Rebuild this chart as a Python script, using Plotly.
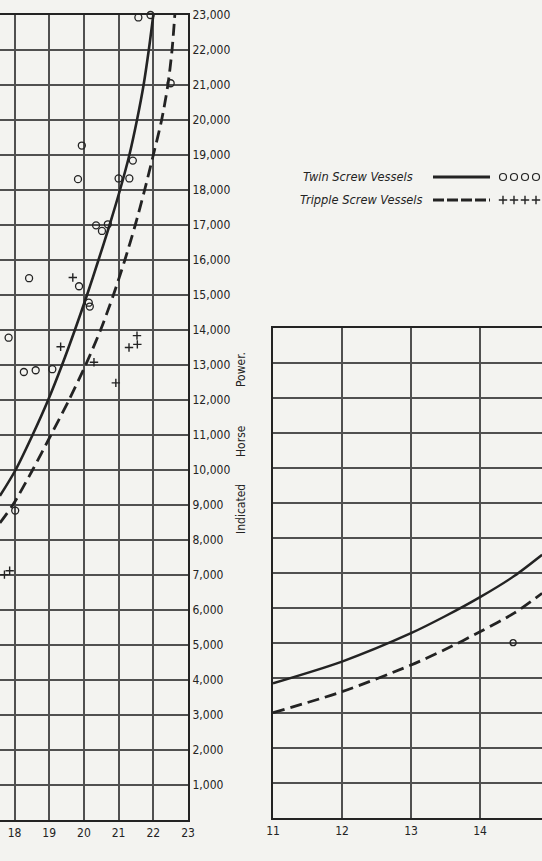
import plotly.graph_objects as go

# ---------------- data ----------------
# Left panel (high speeds, knots vs indicated horse power)
twin_pts_speed = [17.83, 18.02, 18.27, 18.42, 18.61, 19.09, 19.83, 19.86, 19.94, 20.14, 20.17,
                  20.35, 20.52, 20.69, 21.0, 21.31, 21.41, 21.57, 21.92, 22.5]
twin_pts_ihp = [13780, 8840, 12800, 15480, 12850, 12880, 18310, 15250, 19270, 14780, 14670,
                16990, 16830, 17020, 18330, 18330, 18840, 22930, 23000, 21050]
triple_pts_speed = [17.71, 17.86, 19.33, 19.68, 20.29, 20.92, 21.3, 21.53, 21.54]
triple_pts_ihp = [7010, 7120, 13520, 15500, 13080, 12490, 13500, 13840, 13590]

twin_curve_speed = [17.58, 18.03, 18.52, 18.97, 19.37, 19.74, 20.09, 20.42, 20.74, 21.04, 21.31,
                    21.53, 21.72, 21.87, 22.0]
twin_curve_ihp = [9260, 10000, 11000, 12000, 13000, 14000, 15000, 16000, 17000, 18000, 19000,
                  20000, 21000, 22000, 23000]
triple_curve_speed = [17.58, 17.95, 18.52, 19.05, 19.57, 20.05, 20.48, 20.85, 21.18, 21.48, 21.75,
                      22.0, 22.24, 22.42, 22.54, 22.62]
triple_curve_ihp = [8490, 9000, 10000, 11000, 12000, 13000, 14000, 15000, 16000, 17000, 18000,
                    19000, 20000, 21000, 22000, 23000]

# Right panel (low speeds)
twin_low_curve_speed = [11.0, 12.0, 13.0, 13.5, 14.0, 14.5, 14.9]
twin_low_curve_ihp = [3850, 4470, 5280, 5770, 6310, 6920, 7520]
triple_low_curve_speed = [11.0, 12.0, 13.0, 13.5, 14.0, 14.5, 14.9]
triple_low_curve_ihp = [3010, 3610, 4370, 4820, 5320, 5860, 6420]
twin_low_pts_speed = [14.48]
twin_low_pts_ihp = [5010]

left_speed_ticks = [18, 19, 20, 21, 22, 23]
right_speed_ticks = [11, 12, 13, 14]
ihp_ticks = list(range(1000, 23001, 1000))
ihp_tick_text = [f"{v:,}" for v in ihp_ticks]

# ---------------- style ----------------
W, H = 542, 861
bg = "rgb(243,243,240)"
ink = "rgb(35,35,35)"
gridc = "rgb(80,80,80)"
fam = "Liberation Sans Narrow, DejaVu Sans Condensed, Arial Narrow, sans-serif"


def px_x(p):
    return p / W


def px_y(p):
    return (H - p) / H


fig = go.Figure()

# left panel curves
fig.add_trace(go.Scatter(x=twin_curve_speed, y=twin_curve_ihp, mode="lines",
                         line=dict(color=ink, width=2.6, shape="spline", smoothing=0.8),
                         xaxis="x", yaxis="y"))
fig.add_trace(go.Scatter(x=triple_curve_speed, y=triple_curve_ihp, mode="lines",
                         line=dict(color=ink, width=2.8, shape="spline", smoothing=0.8, dash="12px,6px"),
                         xaxis="x", yaxis="y"))
fig.add_trace(go.Scatter(x=twin_pts_speed, y=twin_pts_ihp, mode="markers",
                         marker=dict(symbol="circle-open", size=7, color=ink, line=dict(width=1.3)),
                         xaxis="x", yaxis="y", cliponaxis=False))
fig.add_trace(go.Scatter(x=triple_pts_speed, y=triple_pts_ihp, mode="markers",
                         marker=dict(symbol="cross-thin-open", size=6, color=ink,
                                     line=dict(width=1.4, color=ink)),
                         xaxis="x", yaxis="y"))

# right panel curves
fig.add_trace(go.Scatter(x=twin_low_curve_speed, y=twin_low_curve_ihp, mode="lines",
                         line=dict(color=ink, width=2.4, shape="spline", smoothing=0.8),
                         xaxis="x2", yaxis="y2"))
fig.add_trace(go.Scatter(x=triple_low_curve_speed, y=triple_low_curve_ihp, mode="lines",
                         line=dict(color=ink, width=2.8, shape="spline", smoothing=0.8, dash="12px,6px"),
                         xaxis="x2", yaxis="y2"))
fig.add_trace(go.Scatter(x=twin_low_pts_speed, y=twin_low_pts_ihp, mode="markers",
                         marker=dict(symbol="circle-open", size=6, color=ink, line=dict(width=1.3)),
                         xaxis="x2", yaxis="y2"))

# legend sample markers on a hidden pixel-like axis (legend area only)
fig.add_trace(go.Scatter(x=[503, 514, 525, 536], y=[177] * 4, mode="markers",
                         marker=dict(symbol="circle-open", size=7, color=ink, line=dict(width=1.2)),
                         xaxis="x3", yaxis="y3", cliponaxis=False))
fig.add_trace(go.Scatter(x=[503, 514, 525, 536], y=[200] * 4, mode="markers",
                         marker=dict(symbol="cross-thin-open", size=6, color=ink,
                                     line=dict(width=1.4, color=ink)),
                         xaxis="x3", yaxis="y3", cliponaxis=False))

axis_common = dict(showgrid=True, gridcolor=gridc, gridwidth=1.5, zeroline=False,
                   showline=True, linecolor=ink, linewidth=2.2, ticks="", automargin=False,
                   tickfont=dict(family=fam, size=12, color=ink))

fig.update_layout(
    template="none",
    width=W, height=H, margin=dict(l=0, r=0, t=0, b=0, pad=0), autosize=False,
    paper_bgcolor=bg, plot_bgcolor="rgba(0,0,0,0)", showlegend=False,
    xaxis=dict(domain=[0, px_x(188)], range=[17.582, 23], tickvals=left_speed_ticks,
               mirror=True, anchor="y", **axis_common),
    yaxis=dict(domain=[px_y(820), px_y(15)], range=[0, 23000], tickvals=ihp_ticks,
               ticktext=ihp_tick_text, side="right", mirror=False, anchor="x",
               **axis_common),
    xaxis2=dict(domain=[px_x(273), 1.0], range=[11, 11 + 269 / 69], tickvals=right_speed_ticks,
                mirror=True, anchor="y2", **axis_common),
    yaxis2=dict(domain=[px_y(818), px_y(328)], range=[0, 14000], dtick=1000,
                showticklabels=False, side="left", mirror=False, anchor="x2",
                **axis_common),
    xaxis3=dict(domain=[px_x(495), 1.0], range=[495, W], visible=False, anchor="y3"),
    yaxis3=dict(domain=[px_y(215), px_y(160)], range=[215, 160], visible=False, anchor="x3"),
)

# axis title (vertical)
for word, yc in [("Indicated", 509), ("Horse", 441), ("Power.", 369)]:
    fig.add_annotation(text=word, x=px_x(241), y=px_y(yc), xref="paper", yref="paper",
                       showarrow=False, textangle=-90, xanchor="center", yanchor="middle",
                       font=dict(family=fam, size=12, color=ink))

# legend text
fig.add_annotation(text="<i>Twin Screw Vessels</i>", x=px_x(301), y=px_y(176), xref="paper", yref="paper",
                   showarrow=False, xanchor="left", yanchor="middle",
                   font=dict(family=fam, size=12.7, color=ink))
fig.add_annotation(text="<i>Tripple Screw Vessels</i>", x=px_x(298), y=px_y(199), xref="paper", yref="paper",
                   showarrow=False, xanchor="left", yanchor="middle",
                   font=dict(family=fam, size=12.7, color=ink))
fig.add_shape(type="line", xref="paper", yref="paper", x0=px_x(433), x1=px_x(490),
              y0=px_y(177), y1=px_y(177), line=dict(color=ink, width=3))
fig.add_shape(type="line", xref="paper", yref="paper", x0=px_x(433), x1=px_x(490),
              y0=px_y(200), y1=px_y(200), line=dict(color=ink, width=3, dash="11px,3px"))

fig.write_html("out.html", config={"displayModeBar": False},
               post_script="document.body.style.margin='0';")
